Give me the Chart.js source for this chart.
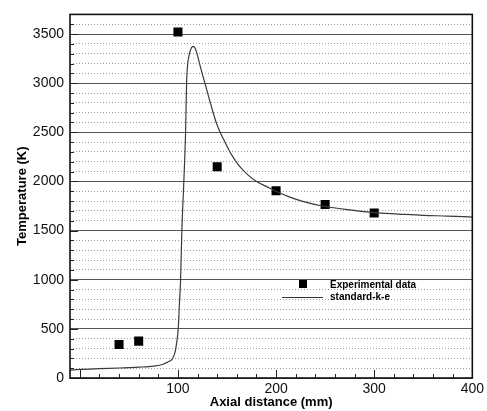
<!DOCTYPE html>
<html>
<head>
<meta charset="utf-8">
<script src="https://cdn.jsdelivr.net/npm/chart.js@4"></script>
<style>
  html, body { margin: 0; padding: 0; background: #fff; }
</style>
</head>
<body>
<canvas id="chart" width="487" height="411"></canvas>
<script>
// experimental points (mm, K)
const expX = [40, 60, 100, 140, 200, 250, 300];
const expY = [340, 375, 3520, 2150, 1905, 1765, 1680];

// standard k-e prediction
const modelX = [-10, 0, 20, 40, 60, 75, 85, 90, 94, 97, 99, 100.3, 101.5, 102.7, 104, 106, 107.8, 108.8, 110,
  111.5, 113.5, 115.6, 117.5, 119.7, 123, 127.5, 133, 139, 143, 148, 153, 158, 164, 171, 180, 190, 200, 214,
  228, 250, 275, 300, 325, 350, 375, 400];
const modelY = [80, 87, 95, 102, 110, 120, 140, 165, 190, 260, 380, 500, 750, 1000, 1500, 2000, 2500, 3000, 3200,
  3290, 3355, 3375, 3355, 3290, 3160, 3000, 2800, 2600, 2500, 2400, 2300, 2220, 2140, 2070, 2000, 1950, 1900, 1840,
  1795, 1745, 1710, 1682, 1668, 1655, 1648, 1638];

const xMin = -10, xMax = 400, xStep = 20, xLabelStep = 100;
const yMin = 0, yMax = 3700, yStep = 100, yLabelStep = 500;

const legendItems = ['Experimental data', 'standard-k-e'];

const FONT = 'Liberation Sans, Arial, Helvetica, sans-serif';

/* --------- frame + inward ticks --------- */
const framePlugin = {
  id: 'frame',
  afterDraw(chart) {
    const {ctx, chartArea: a, scales: {x, y}} = chart;
    ctx.save();
    ctx.strokeStyle = '#222';
    ctx.lineWidth = 1;
    ctx.beginPath();
    for (let v = 0; v <= xMax; v += xStep) {
      const px = Math.round(x.getPixelForValue(v)) + 0.5;
      const len = v % xLabelStep === 0 ? 8 : 4;
      ctx.moveTo(px, a.bottom);
      ctx.lineTo(px, a.bottom - len);
    }
    for (let v = yMin; v <= yMax; v += yStep) {
      const py = Math.round(y.getPixelForValue(v)) + 0.5;
      const len = v % yLabelStep === 0 ? 8 : 4;
      ctx.moveTo(a.left, py);
      ctx.lineTo(a.left + len, py);
    }
    ctx.stroke();
    ctx.lineWidth = 1.6;
    ctx.strokeStyle = '#111';
    ctx.strokeRect(a.left, a.top, a.right - a.left, a.bottom - a.top);

    /* --------- legend inside the plot --------- */
    ctx.fillStyle = '#000';
    ctx.fillRect(299, 280, 8, 8);
    ctx.strokeStyle = '#333';
    ctx.lineWidth = 1;
    ctx.beginPath();
    ctx.moveTo(282, 297.5);
    ctx.lineTo(323, 297.5);
    ctx.stroke();
    ctx.font = 'bold 10px ' + FONT;
    ctx.textBaseline = 'middle';
    ctx.textAlign = 'left';
    ctx.fillText(legendItems[0], 330, 285);
    ctx.fillText(legendItems[1], 330, 297);
    ctx.restore();
  }
};

new Chart(document.getElementById('chart'), {
  type: 'scatter',
  data: {
    datasets: [{
      type: 'line',
      label: legendItems[1],
      data: modelX.map((v, i) => ({x: v, y: modelY[i]})),
      borderColor: '#3a3a3a',
      borderWidth: 1.2,
      pointRadius: 0,
      fill: false,
      cubicInterpolationMode: 'monotone'
    }, {
      label: legendItems[0],
      data: expX.map((v, i) => ({x: v, y: expY[i]})),
      pointStyle: 'rect',
      pointRadius: 6.4,
      backgroundColor: '#000',
      borderColor: '#000',
      borderWidth: 0
    }]
  },
  options: {
    responsive: false,
    animation: false,
    devicePixelRatio: 1,
    layout: { padding: { left: 0, right: 14, top: 11, bottom: 0 } },
    plugins: { legend: { display: false }, tooltip: { enabled: false } },
    scales: {
      x: {
        type: 'linear',
        min: xMin,
        max: xMax,
        afterFit: s => { s.height = 33; },
        grid: { display: false, drawTicks: false },
        border: { display: false },
        ticks: {
          stepSize: xStep,
          autoSkip: false,
          maxRotation: 0,
          padding: 3,
          color: '#111',
          font: { family: FONT, size: 14 },
          callback: v => (v % xLabelStep === 0 ? v : '')
        },
        title: {
          display: true,
          text: 'Axial distance (mm)',
          color: '#000',
          font: { family: FONT, size: 13, weight: 'bold' },
          padding: { top: 0, bottom: 1 }
        }
      },
      y: {
        type: 'linear',
        min: yMin,
        max: yMax,
        afterFit: s => { s.width = 70; },
        grid: {
          drawTicks: false,
          lineWidth: 1,
          color: c => (c.tick && c.tick.value % yLabelStep === 0 ? '#555' : '#9a9a9a')
        },
        border: {
          display: false,
          dash: c => (c.tick && c.tick.value % yLabelStep !== 0 ? [1, 2] : [])
        },
        ticks: {
          stepSize: yStep,
          autoSkip: false,
          padding: 6,
          color: '#111',
          font: { family: FONT, size: 14 },
          callback: v => (v % yLabelStep === 0 ? v : '')
        },
        title: {
          display: true,
          text: 'Temperature (K)',
          color: '#000',
          font: { family: FONT, size: 13, weight: 'bold' },
          padding: { top: 15, bottom: 0 }
        }
      }
    }
  },
  plugins: [framePlugin]
});
</script>
</body>
</html>
